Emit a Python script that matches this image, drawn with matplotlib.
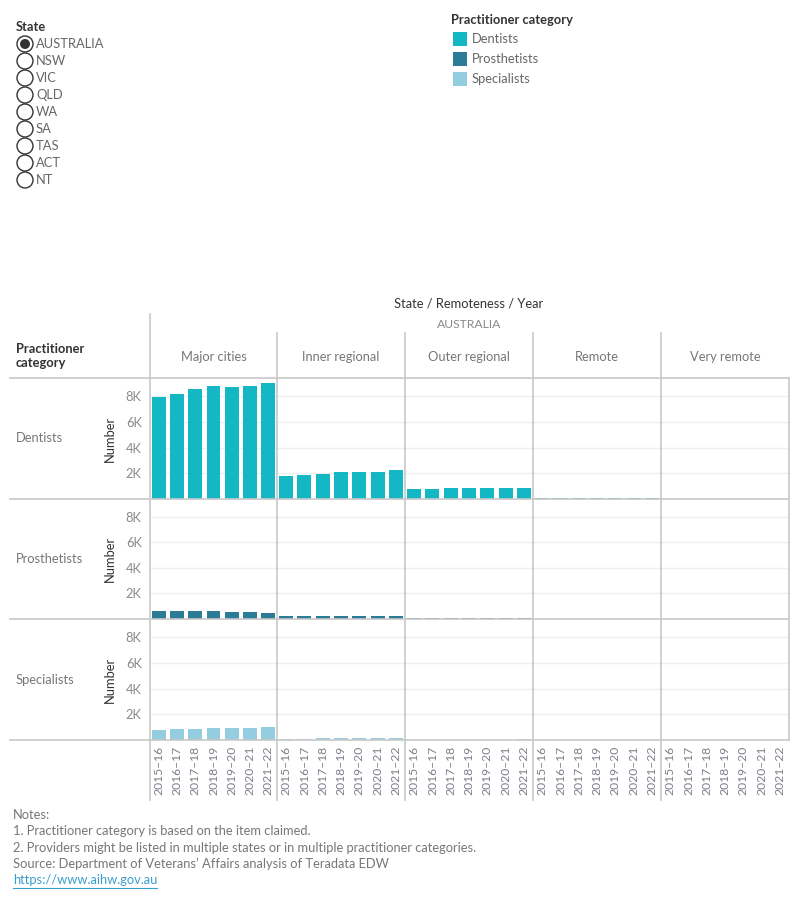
import matplotlib.pyplot as plt
from matplotlib.patches import Circle, Rectangle

plt.rcParams['font.family'] = ['Lato', 'DejaVu Sans']

years = ['2015–16', '2016–17', '2017–18', '2018–19', '2019–20', '2020–21', '2021–22']
remoteness = ['Major cities', 'Inner regional', 'Outer regional', 'Remote', 'Very remote']
categories = ['Dentists', 'Prosthetists', 'Specialists']
states = ['AUSTRALIA', 'NSW', 'VIC', 'QLD', 'WA', 'SA', 'TAS', 'ACT', 'NT']

# values per remoteness area, one list per year
dentists = [[7910, 8140, 8530, 8770, 8690, 8770, 9000],
            [1750, 1830, 1910, 2070, 2070, 2070, 2220],
            [740, 740, 820, 820, 820, 820, 820],
            [100, 100, 100, 100, 100, 100, 100],
            [0, 0, 0, 0, 0, 0, 0]]
prosthetists = [[620, 620, 620, 620, 550, 550, 470],
                [230, 230, 230, 230, 230, 230, 230],
                [80, 80, 80, 80, 80, 80, 80],
                [0, 0, 0, 0, 0, 0, 0],
                [0, 0, 0, 0, 0, 0, 0]]
specialists = [[800, 880, 880, 960, 960, 960, 1040],
               [100, 100, 180, 180, 180, 180, 180],
               [0, 0, 0, 0, 0, 0, 100],
               [0, 0, 0, 0, 0, 0, 0],
               [0, 0, 0, 0, 0, 0, 0]]
series = [dentists, prosthetists, specialists]
colors = ['#14b8c5', '#2c7c97', '#93cddf']

W, H = 800, 900
fs = 9.3
fig = plt.figure(figsize=(8, 9), dpi=100)
fig.patch.set_facecolor('white')

def fx(x):
    return x / W

def fy(y):
    return 1 - y / H

col_x = [150, 277, 405, 533, 661, 789]
row_y = [378, 499, 619, 740]
grey = '#c8c8c8'

for r, cat in enumerate(categories):
    for c, area in enumerate(remoteness):
        x0, x1 = col_x[c], col_x[c + 1]
        y0, y1 = row_y[r], row_y[r + 1]
        ax = fig.add_axes([fx(x0), fy(y1), (x1 - x0) / W, (y1 - y0) / H])
        ax.set_facecolor('none')
        ax.bar(range(7), series[r][c], width=0.76, color=colors[r], zorder=3)
        ax.set_xlim(-0.5, 6.5)
        ax.set_ylim(0, 9400)
        ax.set_yticks([2000, 4000, 6000, 8000])
        ax.grid(axis='y', color='#eeeeee', linewidth=1, zorder=0)
        for s in ax.spines.values():
            s.set_visible(False)
        ax.tick_params(length=0)
        if c == 0:
            ax.set_yticklabels(['2K', '4K', '6K', '8K'], color='#8a8a8a', fontsize=fs)
            ax.tick_params(axis='y', pad=6)
            ax.set_ylabel('Number', color='#333333', fontsize=fs, labelpad=7)
        else:
            ax.set_yticklabels([])
        if r == 2:
            ax.set_xticks(range(7))
            ax.set_xticklabels(years, rotation=90, color='#7a7f8a', fontsize=8.7)
            ax.tick_params(axis='x', pad=4)
        else:
            ax.set_xticks([])

# overlay in pixel coordinates for headers, borders and controls
ov = fig.add_axes([0, 0, 1, 1], zorder=10)
ov.set_xlim(0, W)
ov.set_ylim(H, 0)
ov.axis('off')
ov.patch.set_alpha(0)

for y in row_y:
    ov.plot([10, 789], [y, y], color=grey, lw=1.2)
ov.plot([150, 150], [314, 800], color=grey, lw=1.2)
for x in col_x[1:-1]:
    ov.plot([x, x], [333, 800], color=grey, lw=1.2)
ov.plot([789, 789], [378, 740], color=grey, lw=1.2)

ov.text(469, 304, 'State / Remoteness / Year', ha='center', va='center', fontsize=fs, color='#333333')
ov.text(469, 324, 'AUSTRALIA', ha='center', va='center', fontsize=8.7, color='#8a8a8a')
for c, area in enumerate(remoteness):
    ov.text((col_x[c] + col_x[c + 1]) / 2, 357, area, ha='center', va='center', fontsize=fs, color='#777777')
ov.text(16, 356, 'Practitioner\ncategory', ha='left', va='center', fontsize=fs, color='#333333',
        fontweight='bold', linespacing=1.25)
for r, cat in enumerate(categories):
    ov.text(16, (row_y[r] + row_y[r + 1]) / 2, cat, ha='left', va='center', fontsize=fs, color='#777777')

# state selector
ov.text(16, 27, 'State', ha='left', va='center', fontsize=fs, color='#333333', fontweight='bold')
for i, st in enumerate(states):
    yy = 44 + 17 * i
    ov.add_patch(Circle((25, yy), 8, facecolor='white', edgecolor='#333333', lw=1))
    if i == 0:
        ov.add_patch(Circle((25, yy), 5, facecolor='#333333', edgecolor='none'))
    ov.text(36, yy, st, ha='left', va='center', fontsize=fs, color='#666666')

# colour legend
ov.text(451, 20, 'Practitioner category', ha='left', va='center', fontsize=fs, color='#333333', fontweight='bold')
for i, cat in enumerate(categories):
    yy = 39 + 20 * i
    ov.add_patch(Rectangle((453, yy - 7), 14, 14, facecolor=colors[i], edgecolor='none'))
    ov.text(472, yy, cat, ha='left', va='center', fontsize=fs, color='#666666')

notes = ['Notes:',
         '1. Practitioner category is based on the item claimed.',
         '2. Providers might be listed in multiple states or in multiple practitioner categories.',
         'Source: Department of Veterans\u2019 Affairs analysis of Teradata EDW']
for i, line in enumerate(notes):
    ov.text(13, 815 + 16.3 * i, line, ha='left', va='center', fontsize=fs, color='#777777')
ov.text(13, 880, 'https://www.aihw.gov.au', ha='left', va='center', fontsize=fs, color='#3a9fcb')
ov.plot([13, 157], [887.5, 887.5], color='#3a9fcb', lw=0.8)

fig.savefig('out.png', dpi=100, facecolor='white')
